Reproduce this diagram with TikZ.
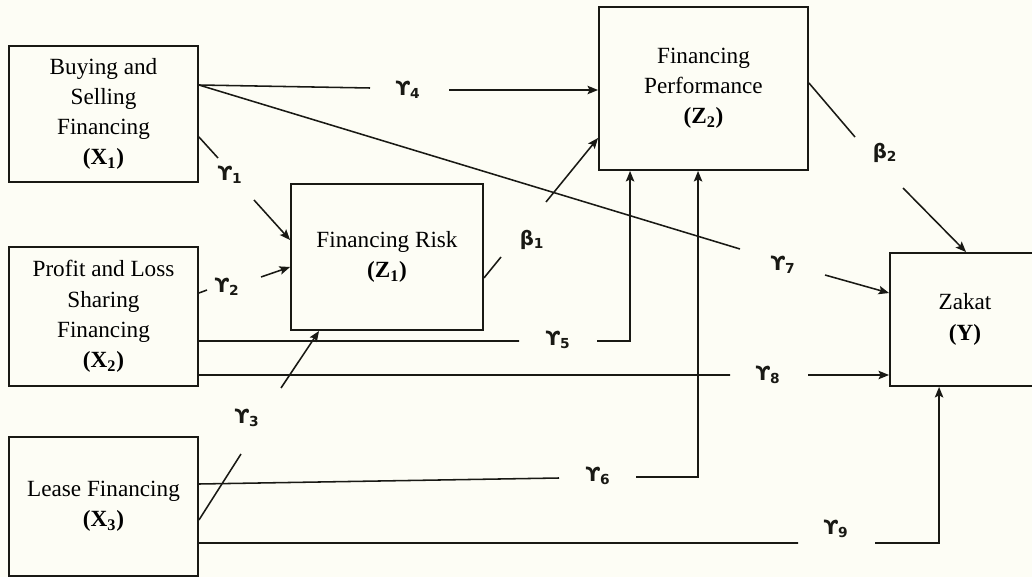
\documentclass[tikz,border=0pt]{standalone}
\usepackage{fontspec}
\setmainfont{Liberation Serif}
\newfontfamily\coeffont{DejaVu Sans}
\usetikzlibrary{arrows.meta, calc}
\definecolor{fondo}{RGB}{253,253,245}
\definecolor{tinta}{RGB}{25,25,20}
\newcommand{\gam}[1]{\textbf{ϒ\textsubscript{#1}}}
\newcommand{\bet}[1]{\textbf{β\textsubscript{#1}}}

\begin{document}
\begin{tikzpicture}[x=0.025cm, y=-0.025cm,
        var/.style={rectangle, draw=tinta, line width=1.3pt, align=center, inner sep=0pt, font=\fontsize{16.5}{21.5}\selectfont},
        coef/.style={inner sep=0pt, text=tinta, font=\coeffont\fontsize{14}{16}\selectfont},
        lin/.style={draw=tinta, line width=1.1pt},
        flecha/.style={lin, -{Stealth[length=7.5pt, width=6pt, inset=1.5pt]}}]
    \path[use as bounding box, fill=fondo] (0,0) rectangle (1032,577);
    \clip (0,0) rectangle (1032,577);

    % variables
    \node[var, minimum width=4.725cm, minimum height=3.4cm] (x1) at (103.5,114) {Buying and\\Selling\\Financing\\\textbf{(X\textsubscript{1})}};
    \node[var, minimum width=4.725cm, minimum height=3.475cm] (x2) at (103.5,316.5) {Profit and Loss\\Sharing\\Financing\\\textbf{(X\textsubscript{2})}};
    \node[var, minimum width=4.725cm, minimum height=3.475cm] (x3) at (103.5,506.5) {Lease Financing\\\textbf{(X\textsubscript{3})}};
    \node[var, minimum width=4.8cm, minimum height=3.65cm] (z1) at (387,257) {Financing Risk\\\textbf{(Z\textsubscript{1})}};
    \node[var, minimum width=5.225cm, minimum height=4.075cm] (z2) at (703.5,88.5) {Financing\\Performance\\\textbf{(Z\textsubscript{2})}};
    \node[var, minimum width=3.75cm, minimum height=3.325cm] (y) at (965,319.5) {Zakat\\\textbf{(Y)}};

    % coefficients
    \node[coef] (g1) at (230,175) {\gam{1}};
    \node[coef] (g2) at (227,287) {\gam{2}};
    \node[coef] (g3) at (247,418) {\gam{3}};
    \node[coef] (g4) at (408,90) {\gam{4}};
    \node[coef] (g5) at (558,340) {\gam{5}};
    \node[coef] (g6) at (598,476) {\gam{6}};
    \node[coef] (g7) at (783,265) {\gam{7}};
    \node[coef] (g8) at (768,375) {\gam{8}};
    \node[coef] (g9) at (836,529) {\gam{9}};
    \node[coef] (b1) at (532,240) {\bet{1}};
    \node[coef] (b2) at (885,153) {\bet{2}};

    % breaks around the labels
    \coordinate (g1a) at (218,158); \coordinate (g1b) at (254,200);
    \coordinate (g2a) at (207,290); \coordinate (g2b) at (261,277);
    \coordinate (g3a) at (241,454); \coordinate (g3b) at (281,388);
    \coordinate (g4a) at (370,88);  \coordinate (g4b) at (449,90);
    \coordinate (g5a) at (519,341); \coordinate (g5b) at (597,341);
    \coordinate (g6a) at (559,478); \coordinate (g6b) at (636,477);
    \coordinate (g7a) at (740,249); \coordinate (g7b) at (825,275);
    \coordinate (g8a) at (730,375); \coordinate (g8b) at (808,375);
    \coordinate (g9a) at (798,543); \coordinate (g9b) at (875,543);
    \coordinate (b1a) at (501,257); \coordinate (b1b) at (546,202);
    \coordinate (b2a) at (855,137); \coordinate (b2b) at (903,188);

    % paths
    \draw[lin] ($(x1.east)+(0,23)$) -- (g1a);
    \draw[flecha] (g1b) -- ($(z1.west)+(0,-17)$);
    \draw[lin] ($(x2.east)+(0,-23.5)$) -- (g2a);
    \draw[flecha] (g2b) -- ($(z1.west)+(0,10)$);
    \draw[lin] ($(x3.east)+(0,13.5)$) -- (g3a);
    \draw[flecha] (g3b) -- ($(z1.south west)+(29,0)$);
    \draw[lin] ($(x1.east)+(0,-29)$) -- (g4a);
    \draw[flecha] (g4b) -- (z2.west |- g4b);
    \draw[lin] ($(x2.east)+(0,24.5)$) -- (g5a);
    \draw[flecha] (g5b) -| ($(z2.south west)+(32,0)$);
    \draw[lin] ($(x3.east)+(0,-22.5)$) -- (g6a);
    \draw[flecha] (g6b) -| ($(z2.south west)+(100,0)$);
    \draw[lin] ($(x1.east)+(0,-29)$) -- (g7a);
    \draw[flecha] (g7b) -- ($(y.west)+(0,-26.5)$);
    \draw[lin] ($(x2.east)+(0,58.5)$) -- (g8a);
    \draw[flecha] (g8b) -- (y.west |- g8b);
    \draw[lin] ($(x3.east)+(0,36.5)$) -- (g9a);
    \draw[flecha] (g9b) -| ($(y.south west)+(50,0)$);
    \draw[lin] ($(z1.east)+(0,21)$) -- (b1a);
    \draw[flecha] (b1b) -- ($(z2.west)+(0,49.5)$);
    \draw[lin] ($(z2.east)+(0,-5.5)$) -- (b2a);
    \draw[flecha] (b2b) -- ($(y.north west)+(77,0)$);
\end{tikzpicture}
\end{document}
